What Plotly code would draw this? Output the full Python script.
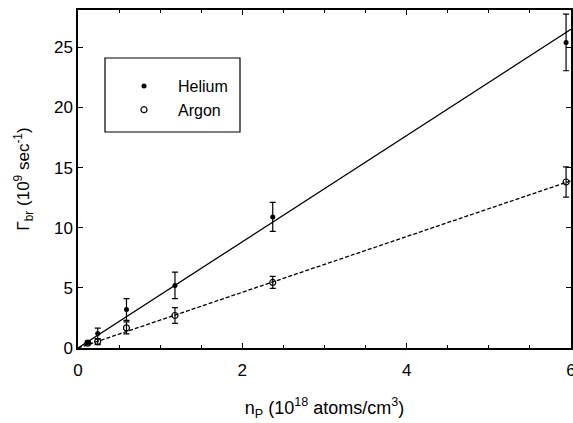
import plotly.graph_objects as go

# Data
he_x = [0.12, 0.24, 0.59, 1.18, 2.37, 5.94]
he_y = [0.45, 1.2, 3.2, 5.2, 10.9, 25.4]
he_err = [0.15, 0.45, 0.9, 1.1, 1.2, 2.35]

ar_x = [0.12, 0.24, 0.59, 1.18, 2.37, 5.94]
ar_y = [0.4, 0.53, 1.67, 2.7, 5.45, 13.8]
ar_err = [0.1, 0.25, 0.5, 0.65, 0.5, 1.25]

fit_x = [0, 6]
he_fit = [0, 26.5]
ar_fit = [0, 13.9]

FONT = "Liberation Sans, Arial, sans-serif"

fig = go.Figure()

fig.add_trace(go.Scatter(x=fit_x, y=he_fit, mode="lines",
                         line=dict(color="black", width=1.3),
                         showlegend=False, hoverinfo="skip"))
fig.add_trace(go.Scatter(x=fit_x, y=ar_fit, mode="lines",
                         line=dict(color="black", width=1.3, dash="4px,2px"),
                         showlegend=False, hoverinfo="skip"))

fig.add_trace(go.Scatter(
    x=he_x, y=he_y, mode="markers", name="Helium",
    marker=dict(symbol="circle", size=5, color="black"),
    error_y=dict(type="data", array=he_err, color="black", thickness=1.2, width=3),
))
fig.add_trace(go.Scatter(
    x=ar_x, y=ar_y, mode="markers", name="Argon",
    marker=dict(symbol="circle-open", size=6, color="black", line=dict(width=1.2)),
    error_y=dict(type="data", array=ar_err, color="black", thickness=1.2, width=3),
))

# legend box
fig.add_shape(type="rect", xref="paper", yref="paper",
              x0=(105 - 78) / 493, x1=(240 - 78) / 493,
              y0=(348 - 132) / 338, y1=(348 - 58) / 338,
              line=dict(color="black", width=1.2))

fig.update_layout(
    width=573, height=423,
    margin=dict(l=78, r=2, t=10, b=75, autoexpand=False),
    paper_bgcolor="white", plot_bgcolor="white",
    font=dict(family=FONT, size=17, color="black"),
    showlegend=True,
    legend=dict(x=(110 - 78) / 493, y=(348 - 69) / 338, xanchor="left", yanchor="top",
                bgcolor="rgba(0,0,0,0)", borderwidth=0, itemwidth=58,
                font=dict(family=FONT, size=16), tracegroupgap=0),
    xaxis=dict(range=[0, 6], tickvals=[0, 2, 4, 6], ticks="inside", ticklen=5,
               tickwidth=1, tickcolor="black", showgrid=False, zeroline=False,
               showline=True, linecolor="black", linewidth=1.5, mirror="ticks",
               minor=dict(dtick=0.5, ticks="inside", ticklen=3, tickcolor="black", showgrid=False),
               tickfont=dict(size=17), ticklabeloverflow="allow", ticklabelstandoff=6,
               title=dict(text="n<sub>P</sub> (10<sup>18</sup> atoms/cm<sup>3</sup>)",
                          font=dict(size=18), standoff=22)),
    yaxis=dict(range=[0, 28.1], tickvals=[0, 5, 10, 15, 20, 25], ticks="inside", ticklen=5,
               tickwidth=1, tickcolor="black", showgrid=False, zeroline=False,
               showline=True, linecolor="black", linewidth=1.5, mirror="ticks",
               tickfont=dict(size=17),
               title=dict(text="\u0393<sub>br</sub> (10<sup>9</sup> sec<sup>-1</sup>)",
                          font=dict(size=17), standoff=20)),
)

fig.write_html("out.html", config={"displayModeBar": False},
               post_script="document.body.style.margin='0';")
